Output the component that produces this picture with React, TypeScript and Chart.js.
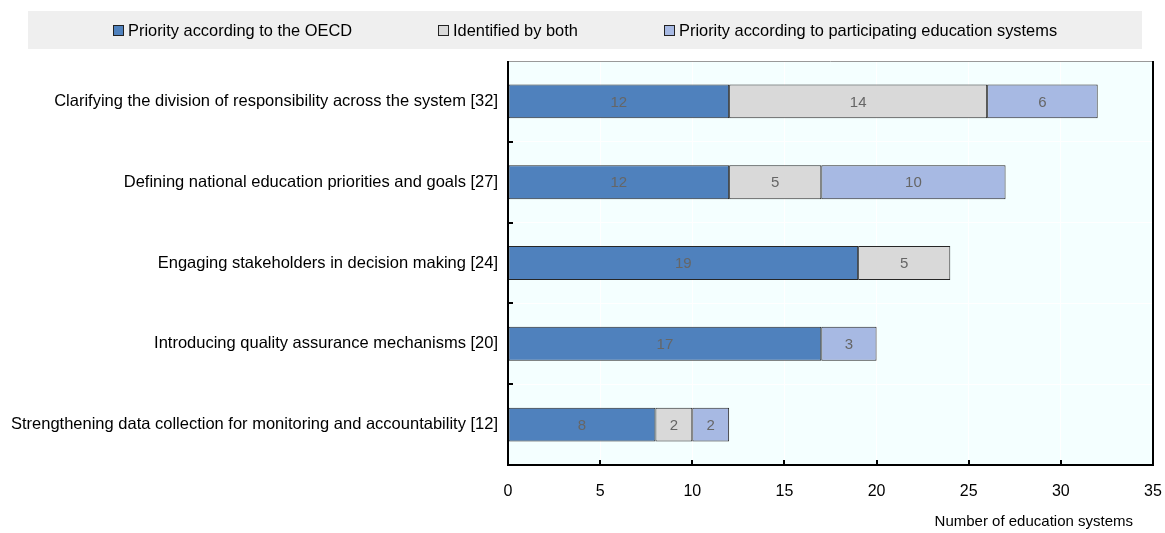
import React, { useEffect, useRef } from "react";
import { Chart, registerables } from "chart.js";

Chart.register(...registerables);

const categories = [
  "Clarifying the division of responsibility across the system [32]",
  "Defining national education priorities and goals [27]",
  "Engaging stakeholders in decision making [24]",
  "Introducing quality assurance mechanisms [20]",
  "Strengthening data collection for monitoring and accountability [12]",
];

const seriesNames = [
  "Priority according to the OECD",
  "Identified by both",
  "Priority according to participating education systems",
];

const oecdPriority = [12, 12, 19, 17, 8];
const identifiedByBoth = [14, 5, 5, null, 2];
const systemPriority = [6, 10, null, 3, 2];

const xTicks = [0, 5, 10, 15, 20, 25, 30, 35];
const xTitle = "Number of education systems";

const FONT = '"Liberation Sans", Arial, sans-serif';
const colors = ["#4f81bd", "#d9d9d9", "#a7b9e3"];

const W = 1165;
const H = 533;

// Grey band with the series keys above the plot
const legendBand = {
  id: "legendBand",
  afterDraw(chart: any) {
    const ctx = chart.ctx;
    ctx.save();
    ctx.fillStyle = "#efefef";
    ctx.fillRect(28, 11, 1114, 38);
    ctx.font = `16.4px ${FONT}`;
    ctx.textBaseline = "middle";
    const box = 10;
    const gapText = 5;
    const gapItem = 86;
    const widths = chart.data.datasets.map((d: any) => box + gapText + ctx.measureText(d.label).width);
    const total = widths.reduce((a: number, b: number) => a + b, 0) + gapItem * (widths.length - 1);
    let x = Math.round(28 + (1114 - total) / 2);
    const cy = 30;
    chart.data.datasets.forEach((d: any, i: number) => {
      const bx = Math.round(x);
      ctx.fillStyle = d.backgroundColor;
      ctx.fillRect(bx + 0.5, cy - 5 + 0.5, box, box);
      ctx.strokeStyle = "#222";
      ctx.lineWidth = 1;
      ctx.strokeRect(bx + 0.5, cy - 5 + 0.5, box, box);
      ctx.fillStyle = "#000";
      ctx.textAlign = "left";
      ctx.fillText(d.label, bx + box + gapText, cy + 1);
      x += widths[i] + gapItem;
    });
    ctx.restore();
  },
};

// Plot background, frame, inward tick marks and the x-axis caption
const plotFrame = {
  id: "plotFrame",
  beforeDraw(chart: any) {
    const { ctx, chartArea: a } = chart;
    ctx.save();
    ctx.fillStyle = "#f4ffff";
    ctx.fillRect(a.left, a.top, a.right - a.left, a.bottom - a.top);
    ctx.restore();
  },
  afterDraw(chart: any) {
    const { ctx, chartArea: a, scales } = chart;
    ctx.save();
    ctx.strokeStyle = "#999";
    ctx.lineWidth = 1;
    ctx.beginPath();
    ctx.moveTo(a.left, a.top + 0.5);
    ctx.lineTo(a.right, a.top + 0.5);
    ctx.stroke();
    ctx.strokeStyle = "#000";
    ctx.lineWidth = 2;
    ctx.beginPath();
    ctx.moveTo(a.left, a.top);
    ctx.lineTo(a.left, a.bottom);
    ctx.lineTo(a.right, a.bottom);
    ctx.lineTo(a.right, a.top);
    ctx.stroke();
    ctx.beginPath();
    xTicks.forEach((v) => {
      const px = Math.round(scales.x.getPixelForValue(v));
      ctx.moveTo(px, a.bottom);
      ctx.lineTo(px, a.bottom - 5);
    });
    const n = categories.length;
    for (let i = 1; i < n; i++) {
      const py = Math.round((scales.y.getPixelForValue(i - 1) + scales.y.getPixelForValue(i)) / 2);
      ctx.moveTo(a.left, py);
      ctx.lineTo(a.left + 5, py);
    }
    ctx.stroke();
    ctx.font = `15px ${FONT}`;
    ctx.fillStyle = "#000";
    ctx.textAlign = "right";
    ctx.textBaseline = "middle";
    ctx.fillText(xTitle, a.right - 20, a.bottom + 57);
    ctx.restore();
  },
};

// Values written in the middle of each segment
const segmentLabels = {
  id: "segmentLabels",
  afterDatasetsDraw(chart: any) {
    const ctx = chart.ctx;
    ctx.save();
    ctx.font = `15px ${FONT}`;
    ctx.fillStyle = "#666";
    ctx.textAlign = "center";
    ctx.textBaseline = "middle";
    chart.data.datasets.forEach((d: any, di: number) => {
      const meta = chart.getDatasetMeta(di);
      meta.data.forEach((el: any, i: number) => {
        const v = d.data[i];
        if (v === null || v === undefined) return;
        ctx.fillText(String(v), (el.x + el.base) / 2, el.y + 1);
      });
    });
    ctx.restore();
  },
};

export default function App() {
  const ref = useRef<HTMLCanvasElement | null>(null);

  useEffect(() => {
    if (!ref.current) return;
    const series = [oecdPriority, identifiedByBoth, systemPriority];
    const chart = new Chart(ref.current, {
      type: "bar",
      data: {
        labels: categories,
        datasets: series.map((data, i) => ({
          label: seriesNames[i],
          data,
          backgroundColor: colors[i],
          borderColor: "#262626",
          borderWidth: 1,
          borderSkipped: false,
          barPercentage: 0.42,
          categoryPercentage: 1,
        })),
      },
      options: {
        indexAxis: "y",
        animation: false,
        responsive: false,
        maintainAspectRatio: false,
        layout: { padding: { top: 61, right: 12, left: 0, bottom: 0 } },
        plugins: {
          legend: { display: false },
          tooltip: { enabled: false },
        },
        scales: {
          x: {
            stacked: true,
            min: 0,
            max: 35,
            afterBuildTicks: (s: any) => {
              s.ticks = xTicks.map((v) => ({ value: v }));
            },
            afterFit: (s: any) => {
              s.height = 68;
              s.paddingLeft = 0;
              s.paddingRight = 0;
            },
            grid: { color: "#ffffff", lineWidth: 1, drawTicks: false },
            border: { display: false },
            ticks: { color: "#000", font: { family: FONT, size: 16 }, padding: 17 },
          },
          y: {
            stacked: true,
            afterFit: (s: any) => {
              s.width = 508;
            },
            grid: { color: "#ffffff", lineWidth: 1, drawTicks: false, offset: true },
            border: { display: false },
            ticks: { color: "#000", font: { family: FONT, size: 16.5 }, padding: 10 },
          },
        },
      },
      plugins: [plotFrame, segmentLabels, legendBand],
    });
    return () => chart.destroy();
  }, []);

  return (
    <div style={{ position: "fixed", left: 0, top: 0, width: W, height: H }}>
      <canvas ref={ref} width={W} height={H} style={{ display: "block" }} />
    </div>
  );
}
